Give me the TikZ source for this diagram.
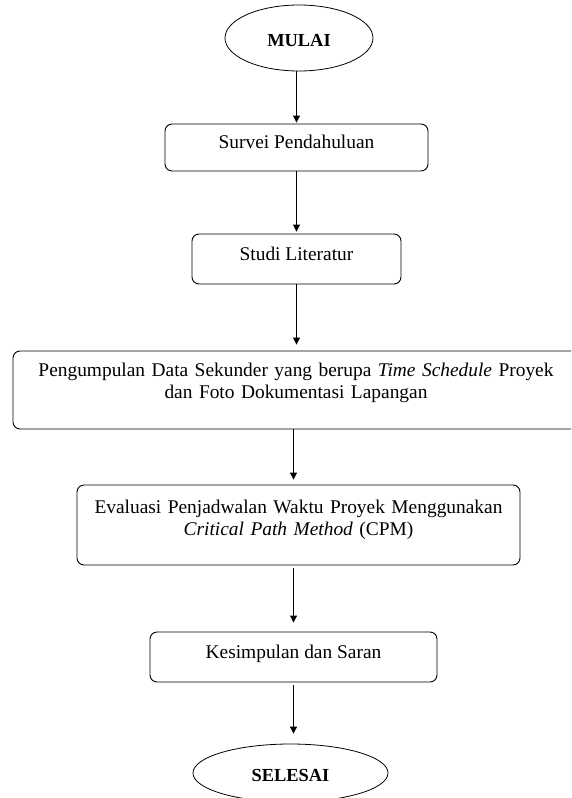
\documentclass[tikz,border=0pt]{standalone}
\usepackage{fontspec}
\setmainfont{Liberation Serif}
\usetikzlibrary{shapes.geometric,arrows.meta}

\begin{document}
\begin{tikzpicture}[x=1pt,y=-1pt,>={Triangle[length=7pt,width=7pt]},
  box/.style={draw,line width=0.9pt,rounded corners=7pt,inner sep=0pt,
    font=\fontsize{19.4}{22}\selectfont,text height=13pt,text depth=11pt},
  term/.style={draw,ellipse,line width=0.8pt,inner sep=0pt,
    font=\fontsize{18.4}{20}\selectfont\bfseries,text height=16pt,text depth=0pt},
  flow/.style={->,line width=0.9pt}]
  \useasboundingbox (0,0) rectangle (571,798);
  \clip (0,0) rectangle (571,798);
  % langkah penelitian
  \node[term,minimum width=148pt,minimum height=66pt] (mulai) at (299,38) {MULAI};
  \node[box,minimum width=263pt,minimum height=47pt] (survei) at (296.5,147.5) {Survei Pendahuluan};
  \node[box,minimum width=209pt,minimum height=50pt] (studi) at (296.5,259) {Studi Literatur};
  \node[box,minimum width=566pt,minimum height=78pt,text width=540pt,align=center,text depth=41pt]
    (kumpul) at (296,390) {Pengumpulan Data Sekunder yang berupa \textit{Time Schedule} Proyek\\
    dan Foto Dokumentasi Lapangan};
  \node[box,minimum width=443pt,minimum height=80pt,text width=430pt,align=center,text depth=37pt]
    (evaluasi) at (298.5,525) {Evaluasi Penjadwalan Waktu Proyek Menggunakan\\
    \textit{Critical Path Method} (CPM)};
  \node[box,minimum width=287pt,minimum height=50pt] (simpulan) at (293.5,657) {Kesimpulan dan Saran};
  \node[term,minimum width=195pt,minimum height=58pt] (selesai) at (290.5,773) {SELESAI};
  % panah
  \draw[flow,shorten >=1pt] (survei.north |- mulai.south) -- (survei.north);
  \draw[flow,shorten >=2pt] (survei.south) -- (studi.north);
  \draw[flow,shorten >=6pt] (studi.south) -- (studi.south |- kumpul.north);
  \draw[flow,shorten >=5pt] (kumpul.south -| simpulan) -- (evaluasi.north -| simpulan);
  \draw[flow,shorten <=3pt,shorten >=9pt] (evaluasi.south -| simpulan) -- (simpulan.north);
  \draw[flow,shorten <=3pt,shorten >=10pt] (simpulan.south) -- (simpulan.south |- selesai.north);
\end{tikzpicture}
\end{document}
